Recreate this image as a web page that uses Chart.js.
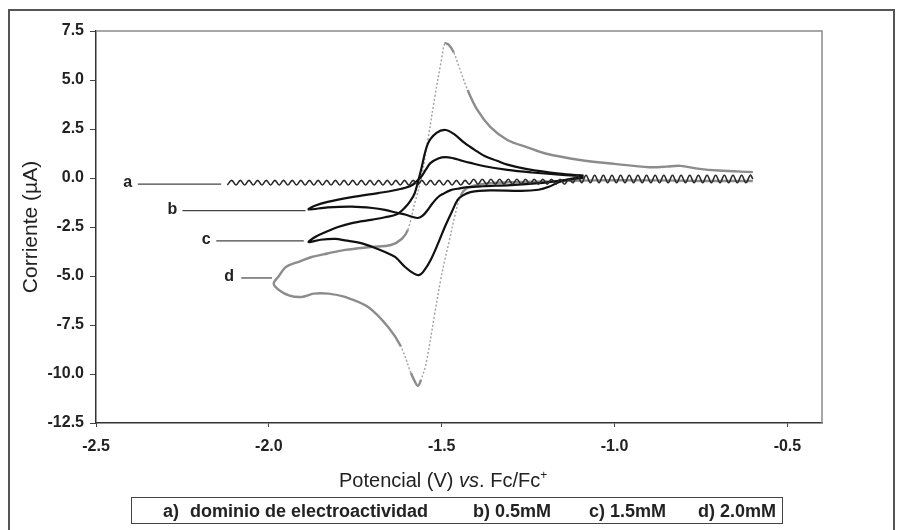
<!DOCTYPE html>
<html>
<head>
<meta charset="utf-8">
<script src="https://cdn.jsdelivr.net/npm/chart.js"></script>
<style>
  body { margin: 0; background: #fff; }
  #wrap { position: relative; width: 898px; height: 530px; font-family: "Liberation Sans", Arial, sans-serif; color: #222; }
  #chart { position: absolute; left: 0; top: 0; }
  #frame { position: absolute; left: 8px; top: 9px; width: 887px; height: 530px; border: 2px solid #555; border-bottom: none; box-sizing: border-box; }
  #xtitle { position: absolute; left: 339px; top: 468px; font-size: 20px; line-height: 24px; white-space: nowrap; }
  #xtitle sup { font-size: 12px; line-height: 0; }
  #legendBox { position: absolute; left: 131px; top: 497px; width: 652px; height: 27px; border: 1.5px solid #444; box-sizing: border-box; font-weight: bold; font-size: 18px; }
  #legendBox span { position: absolute; top: 3px; white-space: nowrap; }
</style>
</head>
<body>
<div id="wrap">
  <canvas id="chart" width="898" height="530"></canvas>
  <div id="frame"></div>
  <div id="xtitle">Potencial (V) <i>vs</i>. Fc/Fc<sup>+</sup></div>
  <div id="legendBox">
    <span style="left:31px">a)</span>
    <span style="left:58px">dominio de electroactividad</span>
    <span style="left:341px">b) 0.5mM</span>
    <span style="left:457px">c) 1.5mM</span>
    <span style="left:566px">d) 2.0mM</span>
  </div>
</div>
<script>
// a) dominio de electroactividad (linea base ondulada)
var aX = [
  -2.1200, -2.1075, -2.0950, -2.0825, -2.0700, -2.0575, -2.0450, -2.0325,
  -2.0200, -2.0075, -1.9950, -1.9825, -1.9700, -1.9575, -1.9450, -1.9325,
  -1.9200, -1.9075, -1.8950, -1.8825, -1.8700, -1.8575, -1.8450, -1.8325,
  -1.8200, -1.8075, -1.7950, -1.7825, -1.7700, -1.7575, -1.7450, -1.7325,
  -1.7200, -1.7075, -1.6950, -1.6825, -1.6700, -1.6575, -1.6450, -1.6325,
  -1.6200, -1.6075, -1.5950, -1.5825, -1.5700, -1.5575, -1.5450, -1.5325,
  -1.5200, -1.5075, -1.4950, -1.4825, -1.4700, -1.4575, -1.4450, -1.4325,
  -1.4200, -1.4075, -1.3950, -1.3825, -1.3700, -1.3575, -1.3450, -1.3325,
  -1.3200, -1.3075, -1.2950, -1.2825, -1.2700, -1.2575, -1.2450, -1.2325,
  -1.2200, -1.2075, -1.1950, -1.1825, -1.1700, -1.1575, -1.1450, -1.1325,
  -1.1200, -1.1075, -1.0950, -1.0825, -1.0700, -1.0575, -1.0450, -1.0325,
  -1.0200, -1.0075, -0.9950, -0.9825, -0.9700, -0.9575, -0.9450, -0.9325,
  -0.9200, -0.9075, -0.8950, -0.8825, -0.8700, -0.8575, -0.8450, -0.8325,
  -0.8200, -0.8075, -0.7950, -0.7825, -0.7700, -0.7575, -0.7450, -0.7325,
  -0.7200, -0.7075, -0.6950, -0.6825, -0.6700, -0.6575, -0.6450, -0.6325,
  -0.6200, -0.6075, -0.6000
];
var aY = [
  -0.36, -0.12, -0.36, -0.12, -0.36, -0.12, -0.36, -0.12,
  -0.36, -0.12, -0.36, -0.12, -0.36, -0.12, -0.36, -0.12,
  -0.36, -0.12, -0.36, -0.12, -0.36, -0.12, -0.36, -0.12,
  -0.36, -0.12, -0.36, -0.12, -0.36, -0.12, -0.36, -0.12,
  -0.36, -0.12, -0.36, -0.12, -0.36, -0.12, -0.36, -0.12,
  -0.36, -0.12, -0.36, -0.12, -0.36, -0.12, -0.36, -0.12,
  -0.36, -0.12, -0.36, -0.12, -0.36, -0.12, -0.36, -0.12,
  -0.32, -0.06, -0.32, -0.06, -0.32, -0.06, -0.32, -0.06,
  -0.32, -0.06, -0.32, -0.06, -0.32, -0.06, -0.32, -0.06,
  -0.32, -0.06, -0.32, -0.06, -0.32, -0.06, -0.32, -0.06,
  -0.24, 0.14, -0.24, 0.14, -0.24, 0.14, -0.24, 0.14,
  -0.24, 0.14, -0.24, 0.14, -0.24, 0.14, -0.24, 0.14,
  -0.24, 0.14, -0.24, 0.14, -0.24, 0.14, -0.24, 0.14,
  -0.24, 0.14, -0.24, 0.14, -0.24, 0.14, -0.24, 0.14,
  -0.24, 0.14, -0.24, 0.14, -0.24, 0.14, -0.24, 0.14,
  -0.24, 0.14, -0.05
];

// b) 0.5mM  (barrido catodico y luego anodico)
var bX = [-1.09, -1.15, -1.22, -1.30, -1.38, -1.425, -1.455, -1.474, -1.495, -1.511, -1.527, -1.54, -1.555, -1.569,
  -1.585, -1.606, -1.626, -1.664, -1.70, -1.76, -1.83, -1.885,
  -1.865, -1.83, -1.76, -1.684, -1.64, -1.605, -1.585, -1.572, -1.56, -1.545, -1.532, -1.51, -1.489,
  -1.465, -1.445, -1.417, -1.376, -1.31, -1.24, -1.16, -1.09];
var bY = [0.02, -0.12, -0.26, -0.36, -0.42, -0.47, -0.55, -0.62, -0.8, -0.98, -1.3, -1.62, -1.92, -2.04,
  -1.98, -1.86, -1.79, -1.63, -1.53, -1.46, -1.5, -1.6,
  -1.4, -1.22, -0.98, -0.77, -0.64, -0.5, -0.36, -0.15, 0.05, 0.45, 0.77, 1.0, 1.07,
  1.0, 0.9, 0.77, 0.6, 0.41, 0.28, 0.17, 0.1];

// c) 1.5mM
var cX = [-1.09, -1.13, -1.16, -1.19, -1.22, -1.27, -1.36, -1.417, -1.44, -1.454, -1.47, -1.491, -1.512, -1.532,
  -1.55, -1.565, -1.58, -1.606, -1.635, -1.664, -1.70, -1.733, -1.78, -1.807, -1.85, -1.885,
  -1.865, -1.836, -1.80, -1.76, -1.70, -1.664, -1.63, -1.606, -1.59, -1.578, -1.56, -1.54, -1.515, -1.489,
  -1.465, -1.434, -1.40, -1.376, -1.34, -1.31, -1.253, -1.16, -1.09];
var cY = [0.05, -0.05, -0.2, -0.45, -0.6, -0.66, -0.63, -0.72, -0.9, -1.12, -1.7, -2.5, -3.4, -4.18,
  -4.7, -4.95, -4.88, -4.54, -4.03, -3.78, -3.52, -3.32, -3.18, -3.11, -3.15, -3.27,
  -3.0, -2.76, -2.5, -2.3, -2.12, -2.0, -1.85, -1.5, -1.15, -0.77, 0.4, 1.75, 2.3, 2.45,
  2.25, 1.79, 1.38, 1.12, 0.88, 0.68, 0.45, 0.22, 0.12];

// d) 2.0mM
var dX = [-0.60, -0.75, -0.90, -1.05, -1.20, -1.30, -1.38, -1.425, -1.445, -1.463, -1.478, -1.491, -1.503,
  -1.52, -1.545, -1.56, -1.569, -1.58, -1.589, -1.618, -1.655, -1.713, -1.78, -1.828, -1.87, -1.905,
  -1.94, -1.971, -1.986,
  -1.971, -1.951, -1.91, -1.876, -1.83, -1.779, -1.704, -1.647, -1.615, -1.598, -1.578, -1.56, -1.54,
  -1.52, -1.50, -1.491, -1.48, -1.465, -1.454, -1.425, -1.397, -1.359, -1.31, -1.25, -1.20, -1.10,
  -1.00, -0.90, -0.85, -0.81, -0.76, -0.70, -0.60];
var dY = [-0.15, -0.15, -0.12, -0.12, -0.18, -0.22, -0.3, -0.5, -0.9, -2.0, -3.2, -4.18, -5.2,
  -6.9, -9.44, -10.3, -10.6, -10.3, -9.95, -8.6, -7.6, -6.58, -6.07, -5.9, -5.9, -6.07,
  -6.0, -5.71, -5.4,
  -5.0, -4.54, -4.25, -4.03, -3.85, -3.67, -3.52, -3.42, -3.1, -2.65, -1.28, -0.1, 1.94,
  4.13, 6.1, 6.85, 6.8, 6.4, 5.87, 4.49, 3.47, 2.6, 1.94, 1.55, 1.25, 0.92,
  0.72, 0.55, 0.58, 0.62, 0.48, 0.38, 0.3];

// etiquetas a, b, c, d con su linea guia
var tagText = ['a', 'b', 'c', 'd'];
var tagX = [-2.408, -2.279, -2.181, -2.115];
var tagY = [-0.31, -1.66, -3.21, -5.1];
var tagLineFrom = [-2.379, -2.250, -2.152, -2.080];
var tagLineTo = [-2.138, -1.894, -1.899, -1.991];

var xTicks = [-2.5, -2.0, -1.5, -1.0, -0.5];
var yTicks = [-12.5, -10.0, -7.5, -5.0, -2.5, 0.0, 2.5, 5.0, 7.5];

function toPoints(xs, ys) {
  return xs.map(function(x, i) { return { x: x, y: ys[i] }; });
}

var FONT = '"Liberation Sans", Arial, sans-serif';

// tramos casi verticales de la curva gris se ven punteados
function steepSeg(ctx, steep, normal) {
  var dx = Math.abs(ctx.p1.x - ctx.p0.x);
  var dy = Math.abs(ctx.p1.y - ctx.p0.y);
  return dy > 2.5 * dx ? steep : normal;
}

// marco del area de trazado (arriba y derecha en gris)
var plotBox = {
  id: 'plotBox',
  beforeDatasetsDraw: function(chart) {
    var a = chart.chartArea, ctx = chart.ctx;
    ctx.save();
    ctx.strokeStyle = '#8a8a8a';
    ctx.lineWidth = 1.5;
    ctx.beginPath();
    ctx.moveTo(a.left, a.top);
    ctx.lineTo(a.right, a.top);
    ctx.lineTo(a.right, a.bottom);
    ctx.stroke();
    ctx.restore();
  }
};

var curveTags = {
  id: 'curveTags',
  afterDatasetsDraw: function(chart) {
    var ctx = chart.ctx, sx = chart.scales.x, sy = chart.scales.y;
    ctx.save();
    ctx.font = 'bold 16px ' + FONT;
    ctx.fillStyle = '#222';
    ctx.strokeStyle = '#444';
    ctx.lineWidth = 1.2;
    ctx.textAlign = 'center';
    ctx.textBaseline = 'middle';
    for (var i = 0; i < tagText.length; i++) {
      var y = sy.getPixelForValue(tagY[i]);
      ctx.fillText(tagText[i], sx.getPixelForValue(tagX[i]), y - 1);
      ctx.beginPath();
      ctx.moveTo(sx.getPixelForValue(tagLineFrom[i]), y);
      ctx.lineTo(sx.getPixelForValue(tagLineTo[i]), y);
      ctx.stroke();
    }
    ctx.restore();
  }
};

var ctx = document.getElementById('chart').getContext('2d');
var chart = new Chart(ctx, {
  type: 'scatter',
  data: {
    datasets: [{
      label: 'a) dominio de electroactividad',
      data: toPoints(aX, aY),
      showLine: true,
      borderColor: '#2a2a2a',
      borderWidth: 1.6,
      tension: 0.4,
      pointRadius: 0
    }, {
      label: 'b) 0.5mM',
      data: toPoints(bX, bY),
      showLine: true,
      borderColor: '#111',
      borderWidth: 2.2,
      tension: 0.35,
      pointRadius: 0
    }, {
      label: 'c) 1.5mM',
      data: toPoints(cX, cY),
      showLine: true,
      borderColor: '#111',
      borderWidth: 2.2,
      tension: 0.35,
      pointRadius: 0
    }, {
      label: 'd) 2.0mM',
      data: toPoints(dX, dY),
      showLine: true,
      borderColor: '#8c8c8c',
      borderWidth: 2.4,
      tension: 0.35,
      pointRadius: 0,
      segment: {
        borderWidth: function(c) { return steepSeg(c, 1.4, 2.4); },
        borderDash: function(c) { return steepSeg(c, [2, 2], []); },
        borderColor: function(c) { return steepSeg(c, '#a0a0a0', '#8c8c8c'); }
      }
    }]
  },
  options: {
    responsive: false,
    animation: false,
    devicePixelRatio: 1,
    layout: { padding: { top: 31, right: 76, left: 0, bottom: 0 } },
    plugins: {
      legend: { display: false },
      tooltip: { enabled: false }
    },
    scales: {
      x: {
        type: 'linear',
        min: -2.5,
        max: -0.4,
        afterBuildTicks: function(s) { s.ticks = xTicks.map(function(v) { return { value: v }; }); },
        afterFit: function(s) { s.height = 107; },
        ticks: {
          padding: 10,
          color: '#222',
          font: { family: FONT, size: 16, weight: 'bold' },
          callback: function(v) { return v.toFixed(1); }
        },
        grid: { display: true, drawOnChartArea: false, drawTicks: true, tickLength: 4, color: '#444' },
        border: { display: true, color: '#333', width: 1.5 }
      },
      y: {
        type: 'linear',
        min: -12.5,
        max: 7.5,
        afterBuildTicks: function(s) { s.ticks = yTicks.map(function(v) { return { value: v }; }); },
        afterFit: function(s) { s.width = 96; },
        ticks: {
          padding: 6,
          color: '#222',
          font: { family: FONT, size: 16, weight: 'bold' },
          callback: function(v) { return v.toFixed(1); }
        },
        grid: { display: true, drawOnChartArea: false, drawTicks: true, tickLength: 6, color: '#444' },
        border: { display: true, color: '#333', width: 1.5 },
        title: {
          display: true,
          text: 'Corriente (\u00b5A)',
          color: '#222',
          font: { family: FONT, size: 21 },
          padding: { top: 19, bottom: 0 }
        }
      }
    }
  },
  plugins: [plotBox, curveTags]
});
</script>
</body>
</html>
